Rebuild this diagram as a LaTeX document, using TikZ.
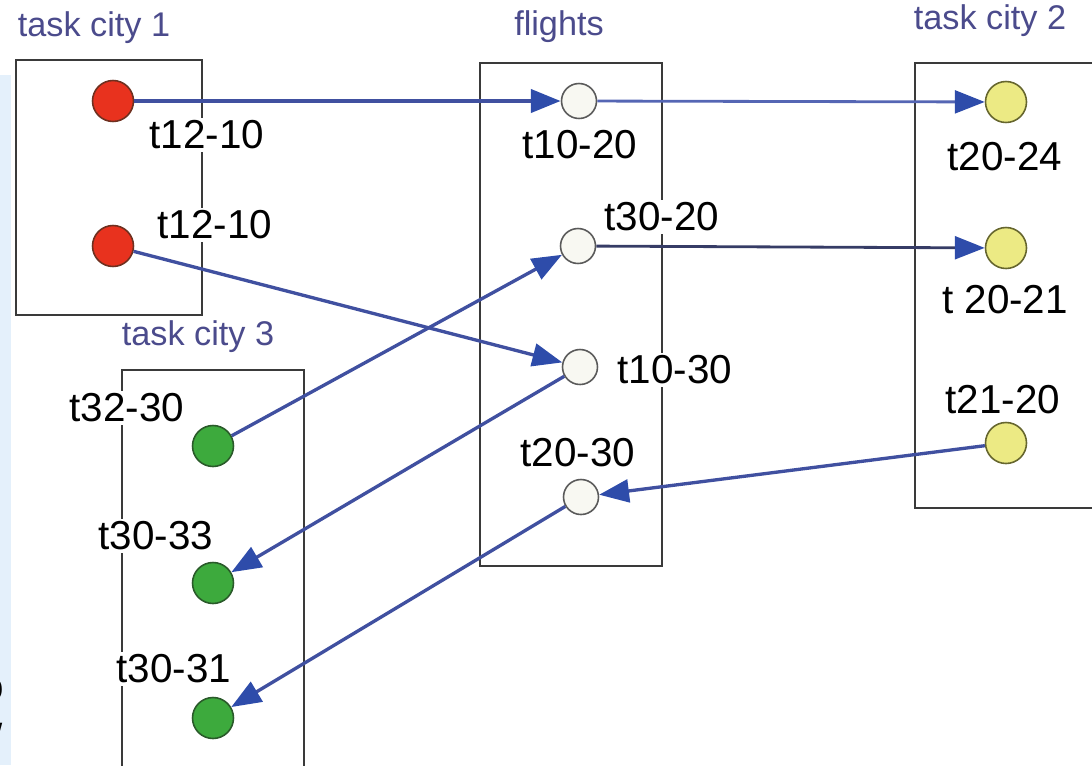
\documentclass[tikz,border=0pt]{standalone}
\usepackage{fontspec}
\setmainfont{Liberation Sans}
\usetikzlibrary{arrows.meta}

\definecolor{titleblue}{HTML}{4B4B8C}
\definecolor{framegray}{HTML}{3A3A3A}
\definecolor{flowblue}{HTML}{4050A0}
\definecolor{flowlight}{HTML}{5566B4}
\definecolor{flowdark}{HTML}{363C66}
\definecolor{tipblue}{HTML}{2E4CAA}
\definecolor{taskred}{HTML}{E8321E}
\definecolor{redrim}{HTML}{6E3020}
\definecolor{taskgreen}{HTML}{3DAA3D}
\definecolor{greenrim}{HTML}{2A5A2A}
\definecolor{taskyellow}{HTML}{ECEA84}
\definecolor{yellowrim}{HTML}{66662E}
\definecolor{flightwhite}{HTML}{F8F8F2}
\definecolor{flightrim}{HTML}{5A5A5A}
\definecolor{edgestrip}{HTML}{E4F0FB}

\begin{document}
\begin{tikzpicture}[x=0.02cm,y=-0.02cm,
  cityframe/.style={draw=framegray,line width=1.1pt},
  task/.style={circle,line width=0.9pt,minimum size=0.82cm,inner sep=0pt},
  redtask/.style={task,fill=taskred,draw=redrim},
  greentask/.style={task,fill=taskgreen,draw=greenrim},
  yellowtask/.style={task,fill=taskyellow,draw=yellowrim},
  flighttask/.style={task,fill=flightwhite,draw=flightrim,minimum size=0.7cm},
  lbl/.style={fill=white,inner sep=1.5pt,text=black,font=\fontsize{23}{26}\selectfont},
  title/.style={text=titleblue,anchor=base,font=\fontsize{19.5}{22}\selectfont},
  flow/.style={draw=flowblue,line width=1.9pt,-{Triangle[length=17pt,width=13pt,color=tipblue]}},
  flowthick/.style={flow,line width=2.6pt},
  flowthin/.style={flow,draw=flowlight,line width=1.6pt},
  flowdarkline/.style={flow,draw=flowdark,line width=1.6pt}
]
\useasboundingbox (0,0) rectangle (1092,765);

% strip along the left edge
\fill[edgestrip] (0,75) rectangle (11,765);
\node[anchor=base east,inner sep=0pt,font=\fontsize{23}{26}\selectfont] (edgeo) at (4,700) {o};
\node[anchor=base east,inner sep=0pt,font=\fontsize{23}{26}\selectfont] (edgeslash) at (3,752) {/};

% city and flight frames
\draw[cityframe] (16,60) rectangle (202,315);
\draw[cityframe] (480,63) rectangle (662,566);
\draw[cityframe] (915,63) rectangle (1100,508);
\draw[cityframe] (122,370) rectangle (304,790);

% titles
\node[title] (title1) at (94,36) {task city 1};
\node[title] (titlef) at (559,35) {flights};
\node[title] (title2) at (990,29) {task city 2};
\node[title] (title3) at (198,345) {task city 3};

% task labels
\node[lbl] (l121) at (207,135) {t12-10};
\node[lbl] (l122) at (215,225) {t12-10};
\node[lbl] (lf1) at (580,145) {t10-20};
\node[lbl] (lf2) at (662,217) {t30-20};
\node[lbl] (lf3) at (675,370) {t10-30};
\node[lbl] (lf4) at (578,453) {t20-30};
\node[lbl] (ly1) at (1005,157) {t20-24};
\node[lbl] (ly2) at (1005,300) {t 20-21};
\node[lbl] (ly3) at (1003,400) {t21-20};
\node[lbl] (lg1) at (127,408) {t32-30};
\node[lbl] (lg2) at (156,536) {t30-33};
\node[lbl] (lg3) at (174,669) {t30-31};

% tasks
\node[redtask] (r1) at (113,101) {};
\node[redtask] (r2) at (113,246) {};
\node[flighttask] (f1) at (579,101) {};
\node[flighttask] (f2) at (578,246) {};
\node[flighttask] (f3) at (580,367) {};
\node[flighttask] (f4) at (581,497) {};
\node[yellowtask] (y1) at (1006,102) {};
\node[yellowtask] (y2) at (1006,248) {};
\node[yellowtask] (y3) at (1006,443) {};
\node[greentask] (g1) at (213,446) {};
\node[greentask] (g2) at (213,583) {};
\node[greentask] (g3) at (213,718) {};

% connections
\draw[flowthick] (r1) -- (f1);
\draw[flowthin] (f1) -- (y1);
\draw[flow] (r2) -- (f3);
\draw[flow] (g1) -- (f2);
\draw[flowdarkline] (f2) -- (y2);
\draw[flow] (f3) -- (g2);
\draw[flow] (y3) -- (f4);
\draw[flow] (f4) -- (g3);
\end{tikzpicture}
\end{document}
